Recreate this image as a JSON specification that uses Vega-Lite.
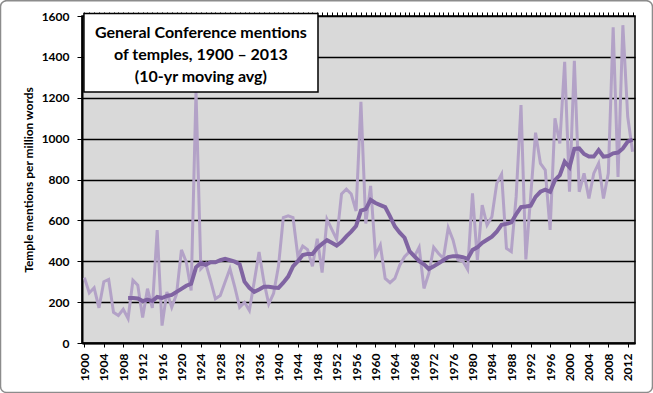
{
  "$schema": "https://vega.github.io/schema/vega-lite/v6.json",
  "width": 553,
  "height": 327,
  "autosize": {"type": "none"},
  "padding": {"left": 82, "top": 16, "right": 18, "bottom": 50},
  "background": "white",
  "config": {
    "view": {"fill": "#D9D9D9", "stroke": "black", "strokeWidth": 1.5},
    "font": "Lato"
  },
  "resolve": {"axis": {"x": "independent"}},
  "data": {
    "values": [
      {"year": 1900, "annual": 320, "ma": null},
      {"year": 1901, "annual": 245, "ma": null},
      {"year": 1902, "annual": 270, "ma": null},
      {"year": 1903, "annual": 172, "ma": null},
      {"year": 1904, "annual": 300, "ma": null},
      {"year": 1905, "annual": 311, "ma": null},
      {"year": 1906, "annual": 150, "ma": null},
      {"year": 1907, "annual": 135, "ma": null},
      {"year": 1908, "annual": 165, "ma": null},
      {"year": 1909, "annual": 120, "ma": 220},
      {"year": 1910, "annual": 307, "ma": 220},
      {"year": 1911, "annual": 283, "ma": 218},
      {"year": 1912, "annual": 125, "ma": 205},
      {"year": 1913, "annual": 266, "ma": 212},
      {"year": 1914, "annual": 172, "ma": 205},
      {"year": 1915, "annual": 552, "ma": 225},
      {"year": 1916, "annual": 85, "ma": 220},
      {"year": 1917, "annual": 250, "ma": 230},
      {"year": 1918, "annual": 175, "ma": 235},
      {"year": 1919, "annual": 240, "ma": 250},
      {"year": 1920, "annual": 456, "ma": 265},
      {"year": 1921, "annual": 396, "ma": 280},
      {"year": 1922, "annual": 257, "ma": 290},
      {"year": 1923, "annual": 1230, "ma": 370},
      {"year": 1924, "annual": 363, "ma": 392},
      {"year": 1925, "annual": 388, "ma": 383},
      {"year": 1926, "annual": 306, "ma": 395},
      {"year": 1927, "annual": 216, "ma": 395},
      {"year": 1928, "annual": 232, "ma": 405},
      {"year": 1929, "annual": 298, "ma": 412},
      {"year": 1930, "annual": 363, "ma": 405},
      {"year": 1931, "annual": 273, "ma": 398},
      {"year": 1932, "annual": 175, "ma": 385},
      {"year": 1933, "annual": 199, "ma": 300},
      {"year": 1934, "annual": 159, "ma": 270},
      {"year": 1935, "annual": 300, "ma": 250},
      {"year": 1936, "annual": 445, "ma": 262},
      {"year": 1937, "annual": 300, "ma": 275},
      {"year": 1938, "annual": 191, "ma": 275},
      {"year": 1939, "annual": 243, "ma": 272},
      {"year": 1940, "annual": 375, "ma": 270},
      {"year": 1941, "annual": 614, "ma": 295},
      {"year": 1942, "annual": 622, "ma": 325},
      {"year": 1943, "annual": 614, "ma": 375},
      {"year": 1944, "annual": 424, "ma": 400},
      {"year": 1945, "annual": 474, "ma": 430},
      {"year": 1946, "annual": 457, "ma": 436},
      {"year": 1947, "annual": 375, "ma": 436},
      {"year": 1948, "annual": 510, "ma": 465},
      {"year": 1949, "annual": 345, "ma": 485},
      {"year": 1950, "annual": 605, "ma": 503},
      {"year": 1951, "annual": 556, "ma": 490},
      {"year": 1952, "annual": 507, "ma": 477},
      {"year": 1953, "annual": 729, "ma": 495},
      {"year": 1954, "annual": 753, "ma": 522},
      {"year": 1955, "annual": 729, "ma": 545},
      {"year": 1956, "annual": 646, "ma": 572},
      {"year": 1957, "annual": 1180, "ma": 648},
      {"year": 1958, "annual": 585, "ma": 655},
      {"year": 1959, "annual": 769, "ma": 700},
      {"year": 1960, "annual": 430, "ma": 685},
      {"year": 1961, "annual": 479, "ma": 675},
      {"year": 1962, "annual": 316, "ma": 665},
      {"year": 1963, "annual": 295, "ma": 620},
      {"year": 1964, "annual": 316, "ma": 570},
      {"year": 1965, "annual": 381, "ma": 540},
      {"year": 1966, "annual": 422, "ma": 515},
      {"year": 1967, "annual": 447, "ma": 450},
      {"year": 1968, "annual": 422, "ma": 425},
      {"year": 1969, "annual": 468, "ma": 400},
      {"year": 1970, "annual": 267, "ma": 385},
      {"year": 1971, "annual": 341, "ma": 362},
      {"year": 1972, "annual": 468, "ma": 375},
      {"year": 1973, "annual": 438, "ma": 390},
      {"year": 1974, "annual": 414, "ma": 405},
      {"year": 1975, "annual": 564, "ma": 420},
      {"year": 1976, "annual": 503, "ma": 425},
      {"year": 1977, "annual": 406, "ma": 424},
      {"year": 1978, "annual": 401, "ma": 420},
      {"year": 1979, "annual": 360, "ma": 412},
      {"year": 1980, "annual": 732, "ma": 455},
      {"year": 1981, "annual": 406, "ma": 468},
      {"year": 1982, "annual": 675, "ma": 490},
      {"year": 1983, "annual": 577, "ma": 505},
      {"year": 1984, "annual": 618, "ma": 520},
      {"year": 1985, "annual": 781, "ma": 545},
      {"year": 1986, "annual": 826, "ma": 578},
      {"year": 1987, "annual": 463, "ma": 583},
      {"year": 1988, "annual": 447, "ma": 590},
      {"year": 1989, "annual": 716, "ma": 630},
      {"year": 1990, "annual": 1164, "ma": 665},
      {"year": 1991, "annual": 409, "ma": 668},
      {"year": 1992, "annual": 720, "ma": 672},
      {"year": 1993, "annual": 1029, "ma": 715},
      {"year": 1994, "annual": 879, "ma": 740},
      {"year": 1995, "annual": 846, "ma": 750},
      {"year": 1996, "annual": 553, "ma": 740},
      {"year": 1997, "annual": 1099, "ma": 797},
      {"year": 1998, "annual": 976, "ma": 821},
      {"year": 1999, "annual": 1376, "ma": 887},
      {"year": 2000, "annual": 740, "ma": 860},
      {"year": 2001, "annual": 1381, "ma": 950},
      {"year": 2002, "annual": 740, "ma": 952},
      {"year": 2003, "annual": 830, "ma": 925},
      {"year": 2004, "annual": 707, "ma": 912},
      {"year": 2005, "annual": 830, "ma": 912},
      {"year": 2006, "annual": 879, "ma": 944},
      {"year": 2007, "annual": 707, "ma": 912},
      {"year": 2008, "annual": 830, "ma": 915},
      {"year": 2009, "annual": 1545, "ma": 928},
      {"year": 2010, "annual": 813, "ma": 932},
      {"year": 2011, "annual": 1555, "ma": 952},
      {"year": 2012, "annual": 1107, "ma": 985},
      {"year": 2013, "annual": 936, "ma": 995}
    ]
  },
  "layer": [
    {
      "mark": {"type": "line", "color": "#B3A2C7", "strokeWidth": 3},
      "encoding": {
        "x": {
          "field": "year",
          "type": "quantitative",
          "scale": {"domain": [1899.5, 2013.5], "nice": false, "zero": false},
          "axis": {
            "title": null,
            "grid": false,
            "values": [1900,1904,1908,1912,1916,1920,1924,1928,1932,1936,1940,1944,1948,1952,1956,1960,1964,1968,1972,1976,1980,1984,1988,1992,1996,2000,2004,2008,2012],
            "format": "d",
            "labelOverlap": false,
            "labelAngle": -90,
            "labelAlign": "right",
            "labelBaseline": "middle",
            "labelFontWeight": "bold",
            "labelFontSize": 12,
            "labelColor": "black",
            "labelPadding": 6,
            "tickSize": 4,
            "tickColor": "black",
            "tickWidth": 1,
            "domainColor": "black",
            "domainWidth": 2
          }
        },
        "y": {
          "field": "annual",
          "type": "quantitative",
          "title": "Temple mentions per million words",
          "scale": {"domain": [0, 1600], "nice": false},
          "axis": {
            "title": "Temple mentions per million words",
            "values": [0, 200, 400, 600, 800, 1000, 1200, 1400, 1600],
            "format": "d",
            "grid": true,
            "gridColor": "black",
            "gridWidth": 1.5,
            "gridOpacity": 1,
            "tickSize": 5,
            "tickColor": "black",
            "domainColor": "black",
            "domainWidth": 2,
            "labelFontWeight": "bold",
            "labelFontSize": 12,
            "labelColor": "black",
            "labelPadding": 8,
            "titleFontWeight": "bold",
            "titleFontSize": 12,
            "titleColor": "black",
            "titlePadding": 6
          }
        }
      }
    },
    {
      "mark": {"type": "line", "color": "#8064A2", "strokeWidth": 4},
      "encoding": {
        "x": {
          "field": "year",
          "type": "quantitative",
          "axis": {
            "title": null,
            "grid": false,
            "labels": false,
            "domain": false,
            "values": [1900,1901,1902,1903,1904,1905,1906,1907,1908,1909,1910,1911,1912,1913,1914,1915,1916,1917,1918,1919,1920,1921,1922,1923,1924,1925,1926,1927,1928,1929,1930,1931,1932,1933,1934,1935,1936,1937,1938,1939,1940,1941,1942,1943,1944,1945,1946,1947,1948,1949,1950,1951,1952,1953,1954,1955,1956,1957,1958,1959,1960,1961,1962,1963,1964,1965,1966,1967,1968,1969,1970,1971,1972,1973,1974,1975,1976,1977,1978,1979,1980,1981,1982,1983,1984,1985,1986,1987,1988,1989,1990,1991,1992,1993,1994,1995,1996,1997,1998,1999,2000,2001,2002,2003,2004,2005,2006,2007,2008,2009,2010,2011,2012,2013],
            "tickSize": 4,
            "tickColor": "black",
            "tickWidth": 1
          }
        },
        "y": {"field": "ma", "type": "quantitative", "title": "Temple mentions per million words"}
      }
    },
    {
      "data": {"values": [{}]},
      "mark": {"type": "rect", "fill": "white", "stroke": "black", "strokeWidth": 1.5, "clip": false},
      "encoding": {
        "x": {"datum": 1899.9, "type": "quantitative", "axis": null},
        "x2": {"datum": 1948.15},
        "y": {"datum": 1228, "type": "quantitative"},
        "y2": {"datum": 1612}
      }
    },
    {
      "data": {"values": [{"label": ["General Conference mentions", "of temples, 1900 – 2013", "(10-yr moving avg)"]}]},
      "mark": {"type": "text", "fontSize": 16, "fontWeight": "bold", "align": "center", "baseline": "middle", "lineHeight": 22, "color": "black", "clip": false},
      "encoding": {
        "x": {"datum": 1924.0, "type": "quantitative", "axis": null},
        "y": {"datum": 1517, "type": "quantitative"},
        "text": {"field": "label"}
      }
    },
    {
      "data": {"values": [{}]},
      "mark": {"type": "rect", "fill": null, "fillOpacity": 0, "stroke": "#8c8c8c", "strokeWidth": 1.5, "cornerRadius": 6, "clip": false},
      "encoding": {
        "x": {"datum": 1882.7, "type": "quantitative", "axis": null},
        "x2": {"datum": 2017.1},
        "y": {"datum": -242, "type": "quantitative"},
        "y2": {"datum": 1675}
      }
    }
  ]
}
